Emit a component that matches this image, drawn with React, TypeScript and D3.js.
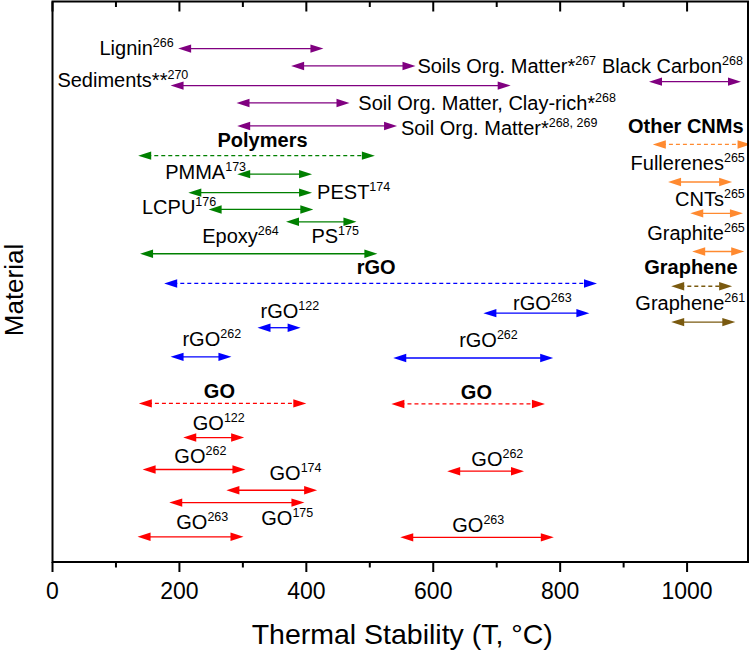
import React from "react";
import * as d3 from "d3";

// ---- data (temperatures in °C, rows as vertical level 0–100) ----
const arrowNames = [
  "Lignin", "Soils OM", "Black Carbon", "Sediments", "SOM clay", "SOM",
  "Polymers", "PMMA", "PEST", "LCPU", "PS", "Epoxy",
  "Other CNMs", "Fullerenes", "CNTs", "Graphite",
  "rGO", "rGO263", "rGO122", "rGO262a", "rGO262b",
  "Graphene", "Graphene261",
  "GOa", "GOb", "GO122", "GO262a", "GO262b", "GO174", "GO175", "GO263a", "GO263b",
];
const arrowFrom = [
  198, 376, 940, 186, 290, 291,
  135, 291, 214, 246, 368, 138,
  946, 970, 1005, 1008,
  176, 679, 323, 186, 537,
  975, 975,
  136, 534, 206, 142, 622, 274, 184, 134, 548,
];
const arrowTo = [
  427, 572, 1085, 722, 468, 543,
  508, 409, 409, 411, 479, 512,
  1100, 1071, 1088, 1090,
  858, 846, 391, 282, 789,
  1071, 1076,
  400, 776, 302, 304, 743, 417, 397, 301, 790,
];
const arrowLevel = [
  91.6, 88.5, 85.7, 85.0, 81.9, 77.8,
  72.5, 69.2, 65.9, 62.9, 60.7, 55.0,
  74.5, 67.8, 62.2, 55.4,
  49.7, 44.4, 41.8, 36.6, 36.4,
  49.2, 42.8,
  28.3, 28.2, 22.2, 16.5, 16.2, 12.8, 10.6, 4.5, 4.4,
];
const arrowGroup = [
  "soil", "soil", "soil", "soil", "soil", "soil",
  "poly", "poly", "poly", "poly", "poly", "poly",
  "cnm", "cnm", "cnm", "cnm",
  "rgo", "rgo", "rgo", "rgo", "rgo",
  "graphene", "graphene",
  "go", "go", "go", "go", "go", "go", "go", "go", "go",
];
const arrowDashed = [
  false, false, false, false, false, false,
  true, false, false, false, false, false,
  true, false, false, false,
  true, false, false, false, false,
  true, false,
  true, true, false, false, false, false, false, false, false,
];

const labelText = [
  "Lignin", "Soils Org. Matter*", "Black Carbon", "Sediments**", "Soil Org. Matter, Clay-rich*",
  "Soil Org. Matter*", "Polymers", "Other CNMs", "PMMA", "PEST", "LCPU", "PS", "Epoxy",
  "rGO", "Fullerenes", "CNTs", "Graphite", "Graphene", "rGO", "Graphene", "rGO",
  "rGO", "rGO", "GO", "GO", "GO", "GO", "GO", "GO", "GO", "GO", "GO",
];
const labelSup = [
  "266", "267", "268", "270", "268",
  "268, 269", "", "", "173", "174", "176", "175", "264",
  "", "265", "265", "265", "", "263", "261", "122",
  "262", "262", "", "", "122", "262", "262", "174", "175", "263", "263",
];
const labelBold = [
  false, false, false, false, false,
  false, true, true, false, false, false, false, false,
  true, false, false, false, true, false, false, false,
  false, false, true, true, false, false, false, false, false, false, false,
];
const labelX = [
  191, 575, 866, 214, 482,
  549, 331, 998, 305, 417, 258, 408, 236,
  510, 1091, 1091, 1091, 1006, 772, 1005, 374,
  251, 687, 263, 668, 262, 233, 701, 383, 370, 236, 671,
];
const labelLevel = [
  90.4, 87.3, 87.3, 84.7, 80.7,
  76.1, 74.0, 76.5, 68.4, 64.7, 62.0, 56.9, 56.9,
  51.3, 69.9, 63.6, 57.4, 51.3, 44.9, 44.9, 43.5,
  38.5, 38.3, 29.2, 29.1, 23.5, 17.6, 17.1, 14.6, 6.6, 5.9, 5.3,
];
const labelAnchor = [
  "end", "start", "start", "end", "start",
  "start", "middle", "middle", "end", "start", "end", "start", "start",
  "middle", "end", "end", "end", "middle", "middle", "middle", "middle",
  "middle", "middle", "middle", "middle", "middle", "middle", "middle", "middle", "middle", "middle", "middle",
];

const xTicks = [0, 200, 400, 600, 800, 1000];
const xMinorTicks = [100, 300, 500, 700, 900];
const groupColors: Record<string, string> = {
  soil: "#800080",
  poly: "#008000",
  cnm: "#ff8a30",
  rgo: "#0000ff",
  graphene: "#7a5a10",
  go: "#ff0000",
};

const FONT = "'Liberation Sans', Arial, Helvetica, sans-serif";

export default function App() {
  const W = 750, H = 655;
  const left = 52.5, right = 748, top = 1.5, bottom = 562;
  const x = d3.scaleLinear().domain([0, 1096]).range([left, right]);
  const y = d3.scaleLinear().domain([0, 100]).range([bottom, top]);

  const headLen = 13, headHalf = 4.2;

  return (
    <svg width={W} height={H} style={{ position: "absolute", left: 0, top: 0, background: "#fff" }}
      fontFamily={FONT}>
      <defs>
        <clipPath id="plot">
          <rect x={left} y={top} width={right - left} height={bottom - top} />
        </clipPath>
      </defs>
      <rect x={0} y={0} width={W} height={H} fill="#fff" />

      <g clipPath="url(#plot)">
        {arrowNames.map((n, i) => {
          const x1 = x(arrowFrom[i]);
          const x2 = x(arrowTo[i]);
          const yy = y(arrowLevel[i]);
          const c = groupColors[arrowGroup[i]];
          return (
            <g key={n}>
              <line x1={x1 + headLen * 0.7} x2={x2 - headLen * 0.7} y1={yy} y2={yy}
                stroke={c} strokeWidth={1.3}
                strokeDasharray={arrowDashed[i] ? "4,3" : undefined} />
              <polygon points={`${x1},${yy} ${x1 + headLen},${yy - headHalf} ${x1 + headLen},${yy + headHalf}`} fill={c} />
              <polygon points={`${x2},${yy} ${x2 - headLen},${yy - headHalf} ${x2 - headLen},${yy + headHalf}`} fill={c} />
            </g>
          );
        })}
      </g>

      {labelText.map((t, i) => (
        <text key={i} x={x(labelX[i])} y={y(labelLevel[i])} textAnchor={labelAnchor[i] as any}
          fontSize={20} fontWeight={labelBold[i] ? "bold" : "normal"} fill="#000">
          {t}
          {labelSup[i] ? (
            <tspan fontSize={12.5} dy={-8}>{labelSup[i]}</tspan>
          ) : null}
        </text>
      ))}

      {/* frame */}
      <rect x={left} y={top} width={right - left} height={bottom - top} fill="none" stroke="#000" strokeWidth={2} />

      {xTicks.map((t) => (
        <g key={"b" + t}>
          <line x1={x(t)} x2={x(t)} y1={bottom} y2={bottom + 10} stroke="#000" strokeWidth={2} />
          <line x1={x(t)} x2={x(t)} y1={top} y2={top + 10} stroke="#000" strokeWidth={2} />
          <text x={x(t)} y={599} textAnchor="middle" fontSize={23} fill="#000">{t}</text>
        </g>
      ))}
      {xMinorTicks.map((t) => (
        <g key={"m" + t}>
          <line x1={x(t)} x2={x(t)} y1={bottom} y2={bottom + 5.5} stroke="#000" strokeWidth={2} />
          <line x1={x(t)} x2={x(t)} y1={top} y2={top + 5.5} stroke="#000" strokeWidth={2} />
        </g>
      ))}

      <text x={(left + right) / 2 + 2} y={644} textAnchor="middle" fontSize={28.5} fill="#000">
        Thermal Stability (T, °C)
      </text>
      <text transform={`translate(23, ${290}) rotate(-90)`} textAnchor="middle" fontSize={26} fill="#000">
        Material
      </text>
    </svg>
  );
}
